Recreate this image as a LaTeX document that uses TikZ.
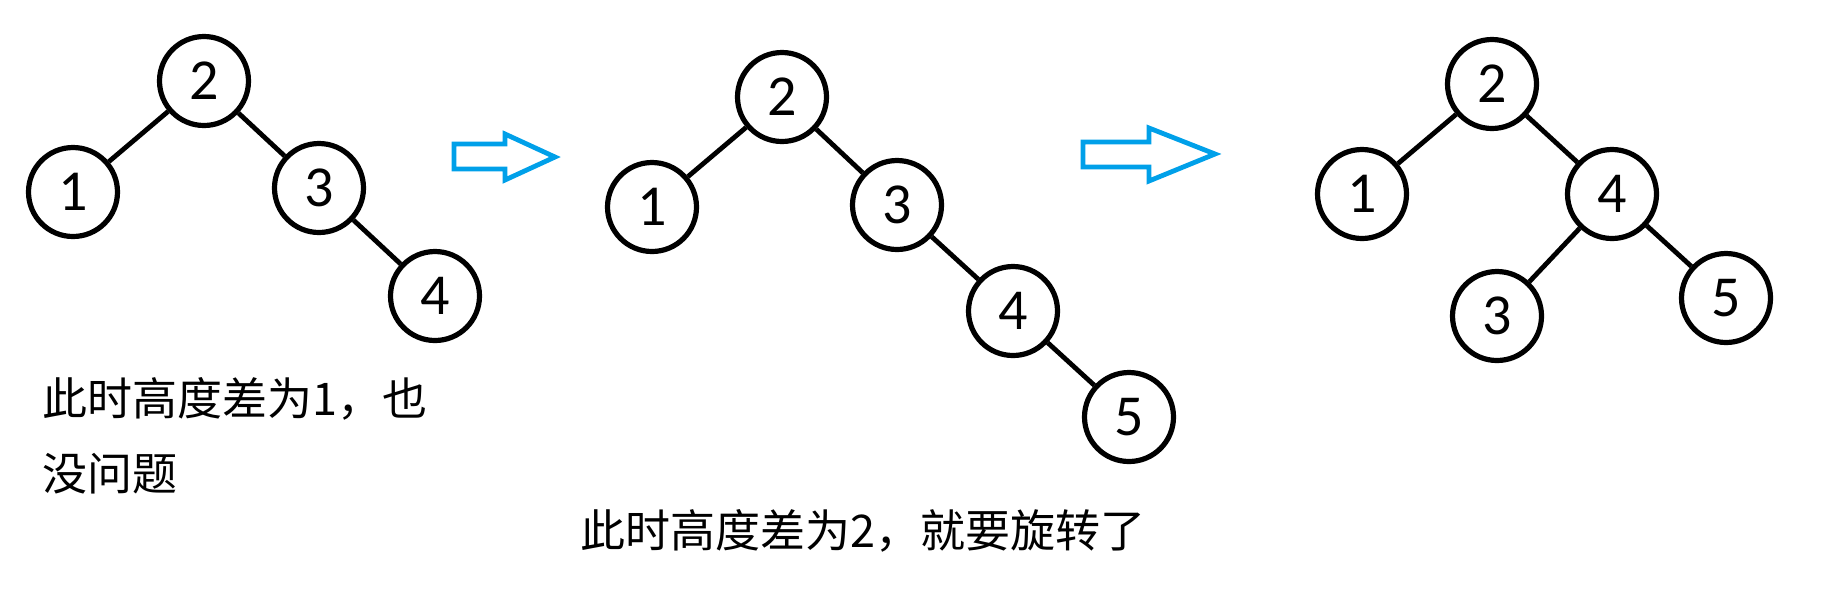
\documentclass[tikz,border=0pt]{standalone}
\usepackage{fontspec}
\newfontfamily\cjk{Noto Sans CJK SC}
\newfontfamily\digitfont{Carlito}
\definecolor{arrowblue}{HTML}{00A0E9}
\begin{document}
\begin{tikzpicture}[x=0.5pt,y=-0.5pt,
  tn/.style={circle,draw=black,line width=2.6pt,minimum size=44.5pt,inner sep=0pt,
             font=\digitfont\fontsize{29}{29}\selectfont},
  edge/.style={draw=black,line width=2.4pt},
  blockarrow/.style={draw=arrowblue,line width=2.4pt,line join=miter},
  lbl/.style={font=\cjk\fontsize{22.5}{27}\selectfont,anchor=base west,inner sep=0pt}]
\useasboundingbox (0,0) rectangle (1835,612);

% left tree
\node[tn] (a2) at (204,81) {2};
\node[tn] (a1) at (73,192) {1};
\node[tn] (a3) at (319,188) {3};
\node[tn] (a4) at (435,296) {4};
\draw[edge] (a2) -- (a1);
\draw[edge] (a2) -- (a3);
\draw[edge] (a3) -- (a4);

% middle tree
\node[tn] (b2) at (782,97) {2};
\node[tn] (b1) at (652,207) {1};
\node[tn] (b3) at (897,205) {3};
\node[tn] (b4) at (1013,311) {4};
\node[tn] (b5) at (1129,417) {5};
\draw[edge] (b2) -- (b1);
\draw[edge] (b2) -- (b3);
\draw[edge] (b3) -- (b4);
\draw[edge] (b4) -- (b5);

% right tree
\node[tn] (c2) at (1492,84) {2};
\node[tn] (c1) at (1362,194) {1};
\node[tn] (c4) at (1612,194) {4};
\node[tn] (c3) at (1497,316) {3};
\node[tn] (c5) at (1726,298) {5};
\draw[edge] (c2) -- (c1);
\draw[edge] (c2) -- (c4);
\draw[edge] (c4) -- (c3);
\draw[edge] (c4) -- (c5);

% block arrows
\draw[blockarrow] (454,144) -- (505,144) -- (505,134) -- (555,157) -- (505,180)
  -- (505,169) -- (454,169) -- cycle;
\draw[blockarrow] (1083,142) -- (1149,142) -- (1149,128) -- (1215,154) -- (1149,181)
  -- (1149,167) -- (1083,167) -- cycle;

% texts
\node[lbl] (t1) at (42,415) {此时高度差为1，也};
\node[lbl] (t2) at (42,490) {没问题};
\node[lbl] (t3) at (580,547) {此时高度差为2，就要旋转了};
\end{tikzpicture}
\end{document}
